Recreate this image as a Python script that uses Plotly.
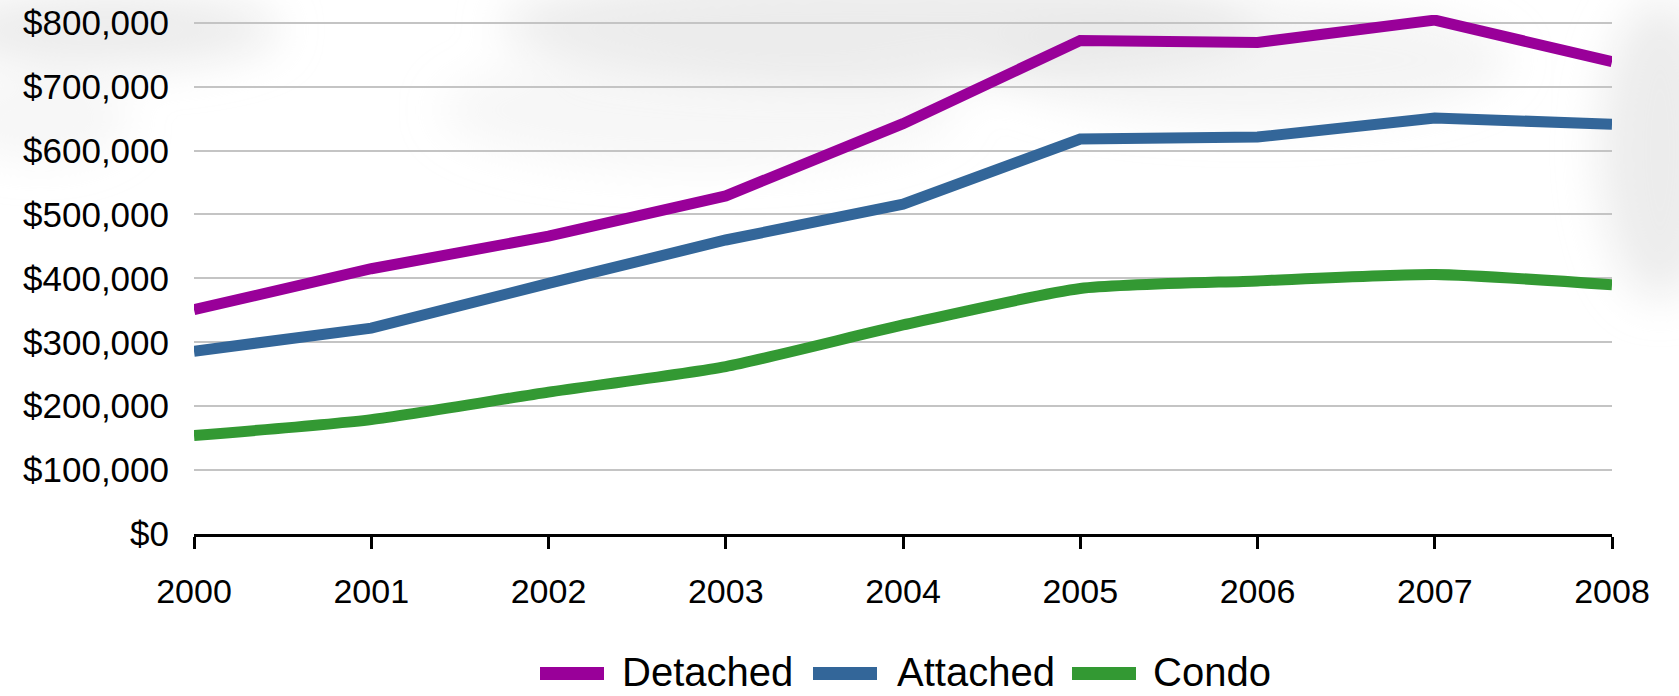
import base64
import plotly.graph_objects as go

# Median sale prices by dwelling type
years = [2000, 2001, 2002, 2003, 2004, 2005, 2006, 2007, 2008]
detached = [351000, 415000, 466000, 529000, 642000, 772000, 769000, 804000, 739000]
attached = [286000, 322000, 392000, 460000, 516000, 618000, 621000, 651000, 641000]
condo = [154000, 179000, 222000, 262000, 327000, 384000, 396000, 406000, 390000]

series_names = ["Detached", "Attached", "Condo"]
series_values = [detached, attached, condo]
series_colors = ["#990099", "#336699", "#339933"]
series_shapes = ["linear", "linear", "spline"]

y_tick_values = [0, 100000, 200000, 300000, 400000, 500000, 600000, 700000, 800000]

W, H = 1679, 696
ML, MR, MT, MB = 194, 67, 15, 162
PW, PH = W - ML - MR, H - MT - MB
FONT = "Liberation Sans, Arial, sans-serif"

fig = go.Figure()
for name, vals, col, shp in zip(series_names, series_values, series_colors, series_shapes):
    fig.add_trace(go.Scatter(
        x=years, y=vals, name=name, mode="lines",
        line=dict(color=col, width=11, shape=shp, smoothing=0.6),
        showlegend=False,
    ))

# soft grey haze behind the chart
haze_svg = f"""<svg xmlns='http://www.w3.org/2000/svg' width='{W}' height='{H}'>
<defs><filter id='b' x='-50%' y='-50%' width='200%' height='200%'><feGaussianBlur stdDeviation='22'/></filter></defs>
<g filter='url(#b)' fill='#e4e4e4'>
<ellipse cx='110' cy='30' rx='170' ry='38' opacity='0.7'/>
<ellipse cx='40' cy='120' rx='90' ry='40' opacity='0.35'/>
<ellipse cx='880' cy='25' rx='380' ry='55' opacity='0.7'/>
<ellipse cx='700' cy='110' rx='260' ry='60' opacity='0.3'/>
<ellipse cx='1250' cy='60' rx='260' ry='60' opacity='0.4'/>
<ellipse cx='1660' cy='150' rx='60' ry='150' opacity='0.7'/>
</g></svg>"""
haze_uri = "data:image/svg+xml;base64," + base64.b64encode(haze_svg.encode()).decode()
fig.add_layout_image(dict(
    source=haze_uri, xref="paper", yref="paper",
    x=-ML / PW, y=1 + MT / PH, sizex=W / PW, sizey=H / PH,
    xanchor="left", yanchor="top", sizing="stretch", layer="below",
))

# legend drawn as swatches with labels beneath the axis
def px_x(p):
    return (p - ML) / PW

def px_y(p):
    return (H - MB - p) / PH

legend_swatches = [(540, 604), (813, 877), (1072, 1136)]
legend_text_x = [620, 895, 1151]
for name, col, (x0, x1), tx in zip(series_names, series_colors, legend_swatches, legend_text_x):
    fig.add_shape(type="rect", xref="paper", yref="paper",
                  x0=px_x(x0), x1=px_x(x1), y0=px_y(680), y1=px_y(667),
                  fillcolor=col, line=dict(width=0))
    fig.add_annotation(xref="paper", yref="paper", x=px_x(tx), y=px_y(672),
                       text=name, showarrow=False, xanchor="left", yanchor="middle",
                       font=dict(family=FONT, size=40, color="#000000"))

fig.update_layout(
    width=W, height=H,
    margin=dict(l=ML, r=MR, t=MT, b=MB, pad=0, autoexpand=False),
    paper_bgcolor="#ffffff", plot_bgcolor="rgba(0,0,0,0)",
    font=dict(family=FONT, color="#000000"),
)
fig.update_xaxes(
    range=[2000, 2008], tickvals=years, ticktext=[str(y) for y in years],
    showgrid=False, zeroline=False, automargin=False,
    showline=True, linecolor="#000000", linewidth=3,
    ticks="outside", ticklen=12, tickwidth=3, tickcolor="#000000",
    tickfont=dict(family=FONT, size=34), ticklabelstandoff=13,
)
fig.update_yaxes(
    range=[0, 812000], tickvals=y_tick_values, tickformat="$,.0f",
    showgrid=True, gridcolor="#c4c4c4", gridwidth=1.5,
    zeroline=False, showline=False, ticks="", automargin=False,
    tickfont=dict(family=FONT, size=35), ticklabelstandoff=24,
)

fig.write_html("out.html")
